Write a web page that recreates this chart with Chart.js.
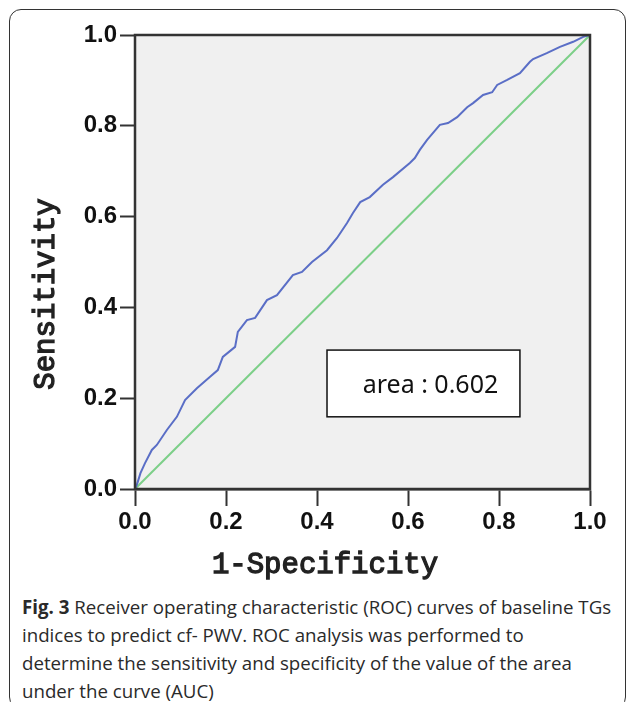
<!DOCTYPE html>
<html>
<head>
<meta charset="utf-8">
<script src="https://cdn.jsdelivr.net/npm/chart.js@4.4.1/dist/chart.umd.min.js"></script>
<style>
body { margin: 0; background: #fff; width: 627px; height: 702px; overflow: hidden; position: relative; }
#frame { position: absolute; left: 9px; top: 9px; width: 617px; height: 700px; border: 1.5px solid #333; border-radius: 12px; box-sizing: border-box; }
#wrap { position: absolute; left: 0; top: 0; width: 627px; height: 590px; }
#caption { position: absolute; left: 22px; top: 593px; width: 605px; font-family: "Open Sans", sans-serif; font-size: 18.7px; line-height: 28px; color: #2a2a2a; white-space: nowrap; }
#caption b { font-weight: bold; }
</style>
</head>
<body>
<div id="frame"></div>
<div id="wrap"><canvas id="roc-chart" width="627" height="590"></canvas></div>
<div id="caption"><b>Fig. 3</b> Receiver operating characteristic (ROC) curves of baseline TGs<br>indices to predict cf- PWV. ROC analysis was performed to<br>determine the sensitivity and specificity of the value of the area<br>under the curve (AUC)</div>
<script>
// values
var fpr = [0, 0.004, 0.012, 0.022, 0.037, 0.048, 0.070, 0.092, 0.110, 0.136, 0.165, 0.182, 0.193, 0.220, 0.226, 0.246, 0.264, 0.290, 0.312, 0.347, 0.367, 0.389, 0.422, 0.444, 0.466, 0.479, 0.495, 0.516, 0.545, 0.567, 0.604, 0.615, 0.626, 0.642, 0.670, 0.688, 0.708, 0.730, 0.743, 0.765, 0.785, 0.796, 0.818, 0.846, 0.868, 0.875, 0.905, 0.934, 0.963, 0.985, 1.0];
var tpr = [0, 0.009, 0.035, 0.057, 0.086, 0.097, 0.130, 0.159, 0.196, 0.222, 0.247, 0.262, 0.291, 0.313, 0.346, 0.372, 0.377, 0.416, 0.427, 0.471, 0.478, 0.500, 0.526, 0.553, 0.586, 0.608, 0.632, 0.643, 0.670, 0.687, 0.718, 0.729, 0.747, 0.769, 0.802, 0.806, 0.819, 0.841, 0.850, 0.868, 0.874, 0.890, 0.901, 0.916, 0.941, 0.947, 0.960, 0.974, 0.985, 0.996, 1.0];
var refX = [0, 1];
var refY = [0, 1];
var tickValues = [0, 0.2, 0.4, 0.6, 0.8, 1.0];
var xTitle = '1-Specificity';
var yTitle = 'Sensitivity';
var areaText = 'area : 0.602';

function toPoints(xs, ys){
	return xs.map(function(x, i){ return {x: x, y: ys[i]}; });
}

var plotDecor = {
	id: 'plotDecor',
	beforeDatasetsDraw: function(chart){
		var ctx = chart.ctx, a = chart.chartArea;
		ctx.save();
		ctx.fillStyle = '#f0f0f0';
		ctx.fillRect(a.left, a.top, a.right - a.left, a.bottom - a.top);
		ctx.restore();
	},
	afterDatasetsDraw: function(chart){
		var ctx = chart.ctx, a = chart.chartArea;
		var xs = chart.scales.x, ys = chart.scales.y;
		ctx.save();
		// frame
		ctx.strokeStyle = '#333';
		ctx.lineWidth = 2.5;
		ctx.strokeRect(a.left, a.top, a.right - a.left, a.bottom - a.top);
		// area box
		var l = xs.getPixelForValue(0.422), r = xs.getPixelForValue(0.846);
		var t = ys.getPixelForValue(0.306), b = ys.getPixelForValue(0.159);
		ctx.fillStyle = '#fff';
		ctx.fillRect(l, t, r - l, b - t);
		ctx.lineWidth = 1.5;
		ctx.strokeStyle = '#111';
		ctx.strokeRect(l, t, r - l, b - t);
		ctx.fillStyle = '#111';
		ctx.font = '25px "Noto Sans"';
		ctx.textAlign = 'center';
		ctx.textBaseline = 'middle';
		ctx.fillText(areaText, (l + r) / 2 + 7, (t + b) / 2 + 2);
		// axis titles
		ctx.font = '29px "Liberation Mono"';
		ctx.fillStyle = '#222';
		ctx.strokeStyle = '#222';
		ctx.lineWidth = 1.3;
		ctx.fillText(xTitle, 325, 565);
		ctx.strokeText(xTitle, 325, 565);
		ctx.translate(46, 294);
		ctx.rotate(-Math.PI / 2);
		ctx.fillText(yTitle, 0, 0);
		ctx.strokeText(yTitle, 0, 0);
		ctx.restore();
	}
};

var tickFont = {family: '"Liberation Sans", Arial, sans-serif', size: 24, weight: 'bold'};

var ctx = document.getElementById('roc-chart');
var rocChart = new Chart(ctx, {
	type: 'scatter',
	data: {
		datasets: [{
			data: toPoints(fpr, tpr),
			showLine: true,
			borderColor: '#5a6ec6',
			borderWidth: 2,
			pointRadius: 0,
			tension: 0
		}, {
			data: toPoints(refX, refY),
			showLine: true,
			borderColor: '#7ccf88',
			borderWidth: 2,
			pointRadius: 0
		}]
	},
	options: {
		responsive: false,
		animation: false,
		layout: { padding: {left: 0, top: 35, right: 37, bottom: 0} },
		plugins: { legend: { display: false }, tooltip: { enabled: false } },
		scales: {
			x: {
				type: 'linear', min: 0, max: 1,
				afterFit: function(scale){ scale.height = 101; },
				afterBuildTicks: function(scale){ scale.ticks = tickValues.map(function(v){ return {value: v}; }); },
				ticks: { color: '#111', font: tickFont, padding: 2, callback: function(v){ return v.toFixed(1); } },
				grid: { drawOnChartArea: false, drawTicks: true, tickLength: 17, tickColor: '#333', tickWidth: 2 },
				border: { display: true, color: '#333', width: 2.5 }
			},
			y: {
				type: 'linear', min: 0, max: 1,
				afterFit: function(scale){ scale.width = 135; },
				afterBuildTicks: function(scale){ scale.ticks = tickValues.map(function(v){ return {value: v}; }); },
				ticks: { color: '#111', font: tickFont, padding: 3, callback: function(v){ return v.toFixed(1); } },
				grid: { drawOnChartArea: false, drawTicks: true, tickLength: 15, tickColor: '#333', tickWidth: 2 },
				border: { display: true, color: '#333', width: 2.5 }
			}
		}
	},
	plugins: [plotDecor]
});
</script>
</body>
</html>
